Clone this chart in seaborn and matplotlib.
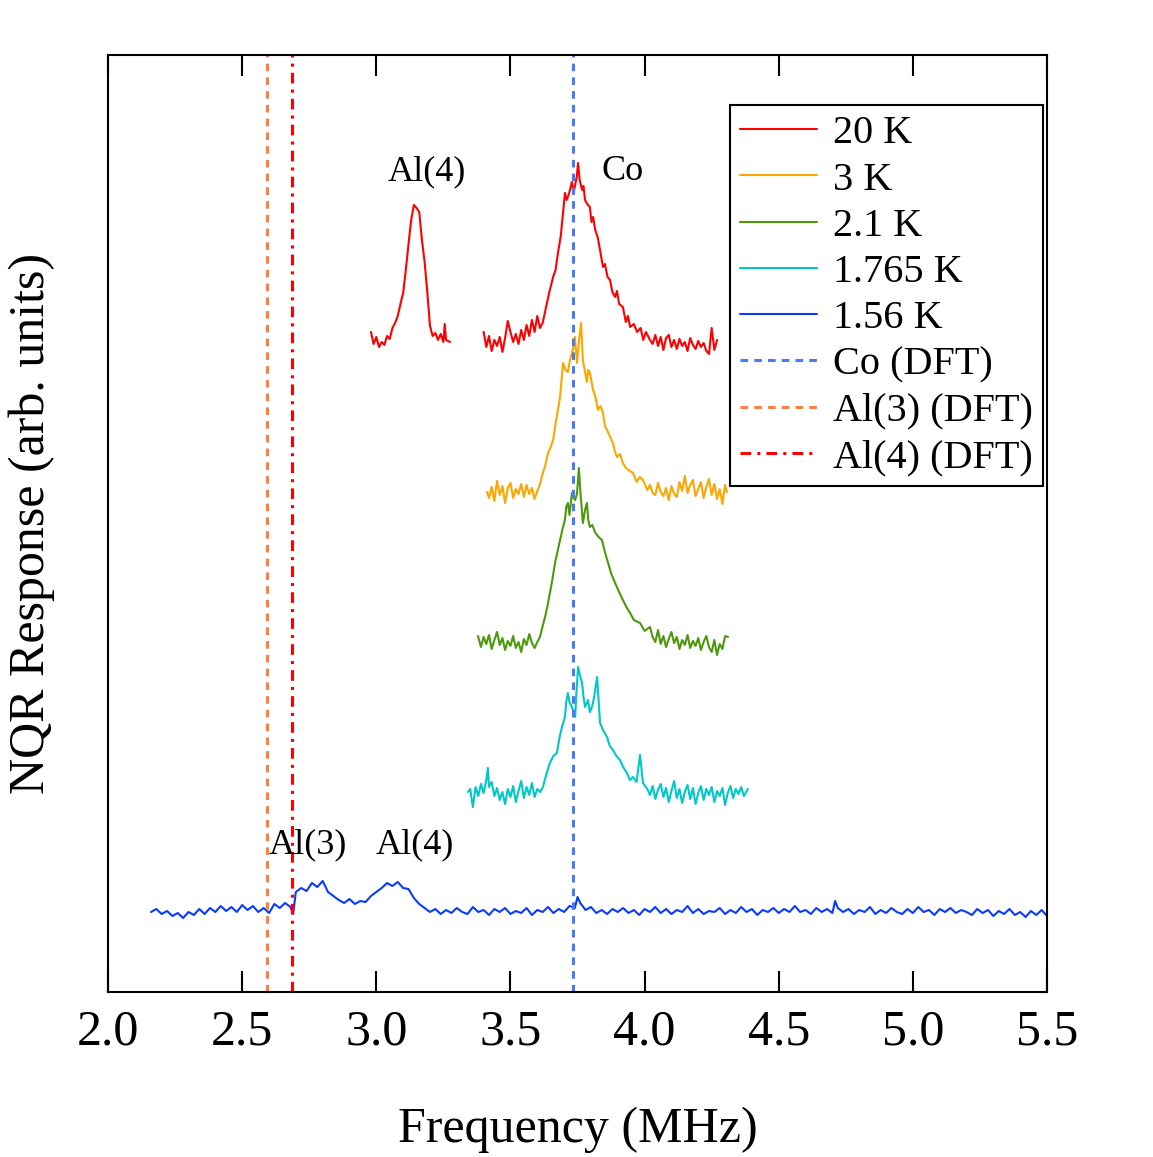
import numpy as np
import pandas as pd
import matplotlib
matplotlib.use("Agg")
import matplotlib.pyplot as plt
import seaborn as sns

# Spectra (frequency in MHz, intensity in arb. units, offset per temperature)
f_20k_al = [2.98, 2.99, 3.00, 3.01, 3.02, 3.03, 3.04, 3.05, 3.06, 3.07, 3.08, 3.09, 3.10, 3.11, 3.12,
            3.13, 3.14, 3.15, 3.16, 3.17, 3.18, 3.19, 3.20, 3.21, 3.22, 3.23, 3.24, 3.25, 3.255, 3.26, 3.275]
y_20k_al = [660, 648, 655, 645, 650, 647, 656, 653, 664, 669, 676, 688, 699, 722, 748,
            772, 787, 784, 780, 752, 730, 700, 666, 656, 659, 652, 658, 650, 668, 652, 650]

f_20k_co = [3.40, 3.41, 3.42, 3.43, 3.44, 3.45, 3.46, 3.47, 3.48, 3.49, 3.50, 3.51, 3.52, 3.53, 3.54,
            3.55, 3.56, 3.57, 3.58, 3.59, 3.60, 3.61, 3.62, 3.636, 3.645, 3.659, 3.668, 3.677, 3.687,
            3.696, 3.703, 3.709, 3.714, 3.722, 3.729, 3.735, 3.741, 3.747, 3.752, 3.758, 3.767, 3.772,
            3.778, 3.786, 3.796, 3.802, 3.808, 3.816, 3.826, 3.835, 3.845, 3.852, 3.862, 3.871, 3.880,
            3.890, 3.897, 3.905, 3.919, 3.930, 3.938, 3.946, 3.960, 3.972, 3.985, 3.995, 4.005, 4.02,
            4.03, 4.04, 4.05, 4.06, 4.07, 4.08, 4.09, 4.10, 4.11, 4.12, 4.13, 4.14, 4.15, 4.16, 4.17,
            4.18, 4.19, 4.20, 4.21, 4.22, 4.23, 4.24, 4.25, 4.26, 4.27]
y_20k_co = [660, 645, 656, 641, 652, 646, 655, 640, 654, 671, 660, 650, 658, 648, 662,
            652, 667, 656, 672, 660, 676, 664, 669, 689, 700, 715, 722, 739, 755,
            779, 799, 792, 795, 802, 810, 798, 807, 815, 829, 812, 802, 806,
            792, 788, 785, 770, 775, 762, 754, 740, 725, 728, 715, 712, 700,
            695, 701, 688, 685, 670, 676, 665, 668, 660, 664, 652, 660, 652,
            648, 657, 646, 655, 642, 654, 657, 645, 652, 643, 653, 646, 650, 641, 654,
            647, 643, 651, 645, 649, 641, 638, 664, 642, 652]

f_3k = [3.413, 3.42, 3.43, 3.44, 3.45, 3.46, 3.47, 3.48, 3.49, 3.50, 3.51, 3.52, 3.53, 3.54, 3.55,
        3.56, 3.57, 3.58, 3.59, 3.60, 3.61, 3.621, 3.630, 3.640, 3.650, 3.659, 3.668, 3.677, 3.685,
        3.696, 3.705, 3.714, 3.722, 3.729, 3.735, 3.740, 3.748, 3.755, 3.763, 3.770, 3.778, 3.785,
        3.790, 3.796, 3.808, 3.816, 3.826, 3.835, 3.845, 3.852, 3.860, 3.870, 3.882, 3.890, 3.897,
        3.908, 3.919, 3.930, 3.945, 3.957, 3.970, 3.982, 3.994, 4.010, 4.02, 4.03, 4.04, 4.05, 4.06,
        4.07, 4.08, 4.09, 4.10, 4.11, 4.12, 4.13, 4.14, 4.15, 4.16, 4.17, 4.18, 4.19, 4.20, 4.21,
        4.22, 4.23, 4.24, 4.25, 4.26, 4.27, 4.28, 4.29, 4.30, 4.307]
y_3k = [500, 494, 505, 491, 511, 497, 506, 489, 504, 509, 494, 503, 498, 508, 495,
        507, 498, 504, 493, 501, 508, 519, 527, 539, 545, 552, 568, 582, 595,
        629, 622, 620, 632, 639, 645, 655, 629, 650, 669, 632, 620, 610,
        622, 619, 602, 596, 582, 586, 579, 566, 562, 556, 549, 540, 535,
        538, 529, 524, 521, 519, 510, 515, 512, 502, 507, 499, 497, 509, 500,
        496, 504, 492, 506, 498, 495, 510, 501, 516, 499, 507, 512, 496, 503, 510,
        494, 505, 513, 497, 508, 493, 503, 488, 507, 500]

f_21k = [3.379, 3.39, 3.40, 3.41, 3.42, 3.43, 3.44, 3.45, 3.46, 3.47, 3.48, 3.49, 3.50, 3.51, 3.52,
         3.53, 3.54, 3.55, 3.56, 3.57, 3.58, 3.59, 3.60, 3.610, 3.62, 3.629, 3.638, 3.647, 3.656,
         3.666, 3.675, 3.685, 3.694, 3.703, 3.708, 3.714, 3.720, 3.729, 3.735, 3.741, 3.748, 3.755,
         3.762, 3.770, 3.778, 3.785, 3.790, 3.796, 3.805, 3.815, 3.828, 3.841, 3.852, 3.864, 3.876,
         3.890, 3.905, 3.919, 3.932, 3.946, 3.960, 3.983, 4.000, 4.020, 4.03, 4.04, 4.05, 4.06, 4.07,
         4.08, 4.09, 4.10, 4.11, 4.12, 4.13, 4.14, 4.15, 4.16, 4.17, 4.18, 4.19, 4.20, 4.21, 4.22,
         4.23, 4.24, 4.25, 4.26, 4.27, 4.28, 4.29, 4.30, 4.311]
y_21k = [356, 345, 355, 348, 357, 343, 352, 360, 347, 354, 342, 351, 346, 356, 344,
         350, 340, 353, 347, 358, 349, 344, 350, 355, 366, 375, 386, 399, 412,
         429, 440, 452, 463, 472, 485, 489, 477, 499, 494, 492, 498, 524,
         495, 469, 482, 489, 472, 465, 467, 460, 455, 452, 440, 429, 418,
         409, 400, 392, 385, 379, 372, 369, 361, 365, 355, 350, 362, 348, 356,
         345, 353, 360, 349, 355, 343, 352, 347, 357, 344, 351, 346, 354, 342, 350,
         356, 345, 340, 352, 337, 348, 343, 356, 355]

f_1765k = [3.342, 3.35, 3.36, 3.37, 3.38, 3.39, 3.40, 3.41, 3.416, 3.42, 3.43, 3.44, 3.45, 3.46, 3.47,
           3.48, 3.49, 3.50, 3.51, 3.52, 3.53, 3.54, 3.55, 3.56, 3.57, 3.58, 3.59, 3.60, 3.610, 3.621,
           3.634, 3.647, 3.660, 3.673, 3.684, 3.692, 3.703, 3.708, 3.714, 3.720, 3.729, 3.735, 3.741,
           3.746, 3.752, 3.758, 3.767, 3.772, 3.778, 3.789, 3.796, 3.804, 3.812, 3.823, 3.834, 3.845,
           3.860, 3.870, 3.882, 3.895, 3.908, 3.920, 3.934, 3.945, 3.957, 3.970, 3.983, 3.994, 4.01,
           4.02, 4.03, 4.04, 4.05, 4.06, 4.07, 4.08, 4.09, 4.10, 4.11, 4.12, 4.13, 4.14, 4.15, 4.16,
           4.17, 4.18, 4.19, 4.20, 4.21, 4.22, 4.23, 4.24, 4.25, 4.26, 4.27, 4.28, 4.29, 4.30, 4.31,
           4.32, 4.33, 4.34, 4.35, 4.36, 4.37, 4.385]
y_1765k = [200, 203, 185, 205, 196, 208, 199, 212, 224, 205, 210, 196, 204, 192, 200,
           188, 203, 195, 206, 190, 201, 211, 194, 205, 197, 209, 195, 203, 200, 205,
           218, 229, 236, 239, 256, 265, 275, 290, 299, 290, 285, 280, 275,
           300, 325, 318, 309, 296, 285, 292, 280, 285, 295, 315, 269, 262,
           255, 246, 242, 236, 232, 225, 219, 212, 215, 210, 237, 209, 203,
           197, 206, 193, 202, 208, 195, 204, 190, 201, 211, 194, 203, 189, 200, 207,
           193, 204, 188, 199, 206, 192, 203, 197, 205, 190, 201, 196, 204, 187, 199,
           206, 194, 203, 198, 205, 196, 203]

f_156k = [2.16, 2.18, 2.20, 2.22, 2.24, 2.26, 2.28, 2.30, 2.32, 2.34, 2.36, 2.38, 2.40, 2.42, 2.44,
          2.46, 2.48, 2.50, 2.52, 2.54, 2.56, 2.58, 2.60, 2.62, 2.64, 2.66, 2.68, 2.69, 2.70, 2.72,
          2.74, 2.76, 2.78, 2.80, 2.82, 2.84, 2.86, 2.88, 2.90, 2.92, 2.94, 2.96, 2.98, 3.00, 3.02,
          3.04, 3.06, 3.08, 3.10, 3.12, 3.14, 3.16, 3.18, 3.20, 3.22, 3.24, 3.26, 3.28, 3.30, 3.32,
          3.34, 3.36, 3.38, 3.40, 3.42, 3.44, 3.46, 3.48, 3.50, 3.52, 3.54, 3.56, 3.58, 3.60, 3.62,
          3.64, 3.66, 3.68, 3.70, 3.72, 3.74, 3.75, 3.76, 3.78, 3.80, 3.82, 3.84, 3.86, 3.88, 3.90,
          3.92, 3.94, 3.96, 3.98, 4.00, 4.02, 4.04, 4.06, 4.08, 4.10, 4.12, 4.14, 4.16, 4.18, 4.20,
          4.22, 4.24, 4.26, 4.28, 4.30, 4.32, 4.34, 4.36, 4.38, 4.40, 4.42, 4.44, 4.46, 4.48, 4.50,
          4.52, 4.54, 4.56, 4.58, 4.60, 4.62, 4.64, 4.66, 4.68, 4.70, 4.71, 4.72, 4.74, 4.76, 4.78,
          4.80, 4.82, 4.84, 4.86, 4.88, 4.90, 4.92, 4.94, 4.96, 4.98, 5.00, 5.02, 5.04, 5.06, 5.08,
          5.10, 5.12, 5.14, 5.16, 5.18, 5.20, 5.22, 5.24, 5.26, 5.28, 5.30, 5.32, 5.34, 5.36, 5.38,
          5.40, 5.42, 5.44, 5.46, 5.48, 5.50]
y_156k = [80, 83, 78, 81, 76, 79, 74, 80, 77, 83, 78, 84, 80, 86, 81,
          85, 80, 87, 82, 86, 80, 84, 79, 88, 84, 89, 85, 78, 100, 104,
          101, 109, 105, 111, 100, 96, 92, 89, 93, 88, 91, 90, 96, 100, 104,
          109, 106, 110, 104, 103, 94, 88, 84, 80, 83, 78, 82, 79, 84, 80,
          78, 85, 80, 82, 77, 83, 80, 84, 78, 81, 79, 84, 77, 82, 80,
          85, 79, 83, 80, 86, 84, 95, 89, 82, 85, 79, 82, 78, 83, 80,
          84, 79, 82, 77, 83, 80, 85, 79, 83, 78, 82, 80, 86, 79, 83,
          78, 81, 80, 84, 78, 82, 79, 85, 80, 83, 77, 82, 80, 84, 79,
          83, 80, 86, 80, 82, 78, 84, 80, 83, 79, 91, 84, 80, 83, 78,
          82, 80, 85, 78, 82, 79, 84, 80, 78, 83, 79, 85, 80, 82, 77,
          83, 80, 84, 79, 82, 80, 77, 83, 79, 82, 76, 81, 78, 83, 77,
          80, 75, 81, 77, 82, 76]

# DFT predicted frequencies (MHz)
co_dft = 3.733
al3_dft = 2.593
al4_dft = 2.686

sns.set_theme(style="ticks")
plt.rcParams["font.family"] = ["Liberation Serif", "DejaVu Serif"]
plt.rcParams["text.color"] = "black"
plt.rcParams["axes.labelcolor"] = "black"

fig = plt.figure(figsize=(11.53, 11.57), dpi=100)
ax = fig.add_axes([0.0937, 0.1426, 0.8144, 0.8099])

lw = 1.5
sns.lineplot(x=f_20k_al, y=y_20k_al, ax=ax, color="#ff0000", lw=lw, sort=False, estimator=None)
sns.lineplot(x=f_20k_co, y=y_20k_co, ax=ax, color="#ff0000", lw=lw, sort=False, estimator=None, label="20 K")
sns.lineplot(x=f_3k, y=y_3k, ax=ax, color="#ffa500", lw=lw, sort=False, estimator=None, label="3 K")
sns.lineplot(x=f_21k, y=y_21k, ax=ax, color="#4c9a0c", lw=lw, sort=False, estimator=None, label="2.1 K")
sns.lineplot(x=f_1765k, y=y_1765k, ax=ax, color="#00c8c8", lw=lw, sort=False, estimator=None, label="1.765 K")
sns.lineplot(x=f_156k, y=y_156k, ax=ax, color="#0a3cff", lw=lw, sort=False, estimator=None, label="1.56 K")

ax.axvline(co_dft, color="#4a7bf5", lw=2.2, dashes=(2.5, 2), label="Co (DFT)")
ax.axvline(al3_dft, color="#ff7f3f", lw=2.2, dashes=(2.5, 2), label="Al(3) (DFT)")
ax.axvline(al4_dft, color="#ff0000", lw=2.2, dashes=(3.5, 2, 1, 2), label="Al(4) (DFT)")

ax.text(3.189, 820, "Al(4)", fontsize=26, ha="center", va="center", color="black")
ax.text(3.919, 820, "Co", fontsize=26, ha="center", va="center", color="black")
ax.text(2.745, 147, "Al(3)", fontsize=26, ha="center", va="center", color="black")
ax.text(3.144, 147, "Al(4)", fontsize=26, ha="center", va="center", color="black")

ax.set_xlim(2.0, 5.5)
ax.set_ylim(0, 937)
ax.set_xticks([2.0, 2.5, 3.0, 3.5, 4.0, 4.5, 5.0, 5.5])
ax.set_xticklabels(["2.0", "2.5", "3.0", "3.5", "4.0", "4.5", "5.0", "5.5"])
ax.set_yticks([])
ax.tick_params(axis="x", direction="in", length=15, width=1.5, labelsize=36, pad=12,
               top=True, bottom=True, color="black", labelcolor="black")
for sp in ax.spines.values():
    sp.set_visible(True)
    sp.set_linewidth(1.5)
    sp.set_color("black")

ax.set_xlabel("Frequency (MHz)", fontsize=36, color="black")
ax.set_ylabel("NQR Response (arb. units)", fontsize=36, color="black")
ax.xaxis.set_label_coords(0.5, -0.122)
ax.yaxis.set_label_coords(-0.057, 0.5)

leg = ax.legend(loc="upper right", bbox_to_anchor=(0.9957, 0.9466), borderaxespad=0,
                fontsize=29, frameon=True, fancybox=False, framealpha=1,
                handlelength=1.9, handletextpad=0.4, labelspacing=0.225, borderpad=0.25)
leg.get_frame().set_edgecolor("black")
leg.get_frame().set_linewidth(1.5)
for t in leg.get_texts():
    t.set_color("black")

fig.savefig("out.png", dpi=100)
